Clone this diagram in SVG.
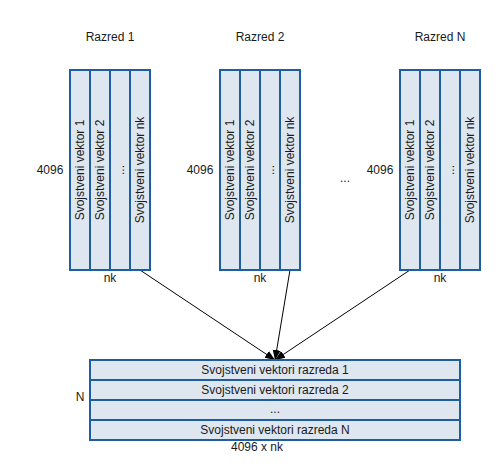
<svg xmlns="http://www.w3.org/2000/svg" width="500" height="474" viewBox="0 0 500 474">
<defs>
<style>
.t{font-family:"Liberation Sans",Arial,sans-serif;font-size:12px;fill:#1a1a1a;text-anchor:middle;dominant-baseline:central}
.c{fill:#dee6f0;stroke:#1d5ea3;stroke-width:2}
.e{stroke:#000;stroke-width:1;fill:none}
</style>
<marker id="ah" viewBox="0 0 10 10" refX="10" refY="5" markerWidth="10" markerHeight="10" markerUnits="userSpaceOnUse" orient="auto">
<path d="M0,1 L10,5 L0,9 Z" fill="#000"/>
</marker>
</defs>
<rect width="500" height="474" fill="#fff"/>
<g id="connectors">
<line class="e" x1="140" y1="270" x2="275" y2="360" marker-end="url(#ah)"/>
<line class="e" x1="290" y1="270" x2="275" y2="360" marker-end="url(#ah)"/>
<line class="e" x1="410" y1="270" x2="275" y2="360" marker-end="url(#ah)"/>
</g>
<g id="razred1">
<text class="t" x="110" y="37">Razred 1</text>
<rect class="c" x="70" y="70" width="20" height="200"/>
<rect class="c" x="90" y="70" width="20" height="200"/>
<rect class="c" x="110" y="70" width="20" height="200"/>
<rect class="c" x="130" y="70" width="20" height="200"/>
<text class="t" transform="translate(80,170) rotate(-90)">Svojstveni vektor 1</text>
<text class="t" transform="translate(100,170) rotate(-90)">Svojstveni vektor 2</text>
<text class="t" transform="translate(120,170) rotate(-90)">...</text>
<text class="t" transform="translate(140,170) rotate(-90)">Svojstveni vektor nk</text>
<text class="t" x="50" y="170">4096</text>
<text class="t" x="110" y="278">nk</text>
</g>
<g id="razred2">
<text class="t" x="260" y="37">Razred 2</text>
<rect class="c" x="220" y="70" width="20" height="200"/>
<rect class="c" x="240" y="70" width="20" height="200"/>
<rect class="c" x="260" y="70" width="20" height="200"/>
<rect class="c" x="280" y="70" width="20" height="200"/>
<text class="t" transform="translate(230,170) rotate(-90)">Svojstveni vektor 1</text>
<text class="t" transform="translate(250,170) rotate(-90)">Svojstveni vektor 2</text>
<text class="t" transform="translate(270,170) rotate(-90)">...</text>
<text class="t" transform="translate(290,170) rotate(-90)">Svojstveni vektor nk</text>
<text class="t" x="200" y="170">4096</text>
<text class="t" x="260" y="278">nk</text>
</g>
<g id="dots">
<text class="t" x="345" y="178">...</text>
</g>
<g id="razredN">
<text class="t" x="440" y="37">Razred N</text>
<rect class="c" x="400" y="70" width="20" height="200"/>
<rect class="c" x="420" y="70" width="20" height="200"/>
<rect class="c" x="440" y="70" width="20" height="200"/>
<rect class="c" x="460" y="70" width="20" height="200"/>
<text class="t" transform="translate(410,170) rotate(-90)">Svojstveni vektor 1</text>
<text class="t" transform="translate(430,170) rotate(-90)">Svojstveni vektor 2</text>
<text class="t" transform="translate(450,170) rotate(-90)">...</text>
<text class="t" transform="translate(470,170) rotate(-90)">Svojstveni vektor nk</text>
<text class="t" x="380" y="170">4096</text>
<text class="t" x="440" y="278">nk</text>
</g>
<g id="result">
<rect class="c" x="90" y="360" width="370" height="20"/>
<rect class="c" x="90" y="380" width="370" height="20"/>
<rect class="c" x="90" y="400" width="370" height="20"/>
<rect class="c" x="90" y="420" width="370" height="20"/>
<text class="t" x="275" y="370">Svojstveni vektori razreda 1</text>
<text class="t" x="275" y="390">Svojstveni vektori razreda 2</text>
<text class="t" x="275" y="409">...</text>
<text class="t" x="275" y="430">Svojstveni vektori razreda N</text>
<text class="t" x="80" y="397">N</text>
<text class="t" x="257" y="447">4096 x nk</text>
</g>
</svg>
